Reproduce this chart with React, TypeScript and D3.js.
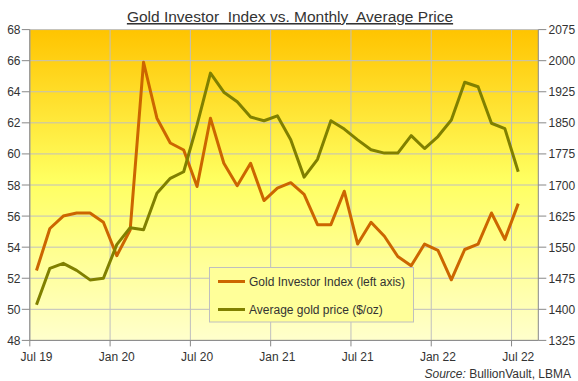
import React from "react";
import * as d3 from "d3";

const months = d3.range(37); // Jul 2019 .. Jul 2022, month index
const gii = [52.5, 55.2, 56.0, 56.2, 56.2, 55.6, 53.45, 55.1, 65.9, 62.3, 60.7, 60.25, 57.9, 62.3, 59.4, 57.95, 59.4, 57.0, 57.8, 58.15, 57.4, 55.45, 55.45, 57.6, 54.2, 55.6, 54.7, 53.4, 52.8, 54.2, 53.8, 51.9, 53.85, 54.2, 56.2, 54.5, 56.8];
const gold = [1411, 1499, 1511, 1494, 1471, 1475, 1556, 1597, 1592, 1680, 1716, 1732, 1845, 1970, 1924, 1901, 1864, 1855, 1867, 1809, 1719, 1762, 1855, 1835, 1809, 1785, 1777, 1777, 1819, 1788, 1817, 1857, 1948, 1937, 1849, 1836, 1732];
const xTickMonths = [0, 6, 12, 18, 24, 30, 36];
const xTickLabels = ["Jul 19", "Jan 20", "Jul 20", "Jan 21", "Jul 21", "Jan 22", "Jul 22"];
const leftTicks = d3.range(48, 69, 2);
const rightTicks = d3.range(1325, 2076, 75);
const title = "Gold Investor  Index vs. Monthly  Average Price";
const legendLabels = ["Gold Investor Index (left axis)", "Average gold price ($/oz)"];

const W = 578, H = 381;
const L = 29.8, R = 538.3, T = 29.6, B = 340.4;
const orange = "#CC6600";
const olive = "#808000";
const font = "'Liberation Sans', Arial, sans-serif";

export default function App() {
  const x = d3.scaleLinear().domain([0, 38]).range([L, R]);
  const yL = d3.scaleLinear().domain([48, 68]).range([B, T]);
  const yR = d3.scaleLinear().domain([1325, 2075]).range([B, T]);
  const lineL = d3.line<number>().x((_, i) => x(months[i] + 0.5)).y((d) => yL(d));
  const lineR = d3.line<number>().x((_, i) => x(months[i] + 0.5)).y((d) => yR(d));
  return (
    <svg width={W} height={H} style={{ position: "absolute", left: 0, top: 0, fontFamily: font }}>
      <defs>
        <linearGradient id="bg" x1="0" y1="0" x2="0" y2="1">
          <stop offset="0%" stopColor="#FFC400" />
          <stop offset="48%" stopColor="#FFFF60" />
          <stop offset="100%" stopColor="#FFFFCC" />
        </linearGradient>
      </defs>
      <rect x={0} y={0} width={W} height={H} fill="#fff" />
      <text x={290} y={22} textAnchor="middle" fontSize={15.5} fill="#333" textDecoration="underline" style={{ whiteSpace: "pre" }}>
        {title}
      </text>
      <rect x={L} y={T} width={R - L} height={B - T} fill="url(#bg)" />
      {leftTicks.map((t) => (
        <line key={"g" + t} x1={L} x2={R} y1={yL(t)} y2={yL(t)} stroke="#BFBFBF" strokeWidth={1} />
      ))}
      {xTickMonths.map((m) => (
        <line key={"v" + m} x1={x(m)} x2={x(m)} y1={T} y2={B} stroke="#BFBFBF" strokeWidth={1} />
      ))}
      <line x1={L} x2={L} y1={T} y2={B} stroke="#888" />
      <line x1={R} x2={R} y1={T} y2={B} stroke="#888" />
      <line x1={L} x2={R} y1={B} y2={B} stroke="#888" />
      {leftTicks.map((t) => (
        <g key={"l" + t}>
          <line x1={L - 8} x2={L} y1={yL(t)} y2={yL(t)} stroke="#888" />
          <text x={20.5} y={yL(t) + 4.5} textAnchor="end" fontSize={12} fill="#333">{t}</text>
        </g>
      ))}
      {rightTicks.map((t) => (
        <g key={"r" + t}>
          <line x1={R} x2={R + 8} y1={yR(t)} y2={yR(t)} stroke="#888" />
          <text x={548.5} y={yR(t) + 4.5} textAnchor="start" fontSize={12} fill="#333">{t}</text>
        </g>
      ))}
      {xTickMonths.map((m, i) => (
        <g key={"x" + m}>
          <line x1={x(m)} x2={x(m)} y1={B} y2={B + 6} stroke="#888" />
          <text x={x(m + 0.5)} y={361} textAnchor="middle" fontSize={12} fill="#333">{xTickLabels[i]}</text>
        </g>
      ))}
      <path d={lineL(gii) || ""} fill="none" stroke={orange} strokeWidth={3} strokeLinejoin="round" />
      <path d={lineR(gold) || ""} fill="none" stroke={olive} strokeWidth={3} strokeLinejoin="round" />
      <rect x={209.5} y={267.5} width={204} height={54.5} fill="#FFFF99" stroke="#BFBFBF" />
      {legendLabels.map((lab, i) => (
        <g key={lab}>
          <line x1={218} x2={245} y1={281.5 + i * 28} y2={281.5 + i * 28} stroke={i === 0 ? orange : olive} strokeWidth={3} />
          <text x={249} y={286 + i * 28} fontSize={12} fill="#333">{lab}</text>
        </g>
      ))}
      <text x={571} y={378} textAnchor="end" fontSize={12} fill="#333">
        <tspan fontStyle="italic">Source:</tspan> BullionVault, LBMA
      </text>
    </svg>
  );
}
